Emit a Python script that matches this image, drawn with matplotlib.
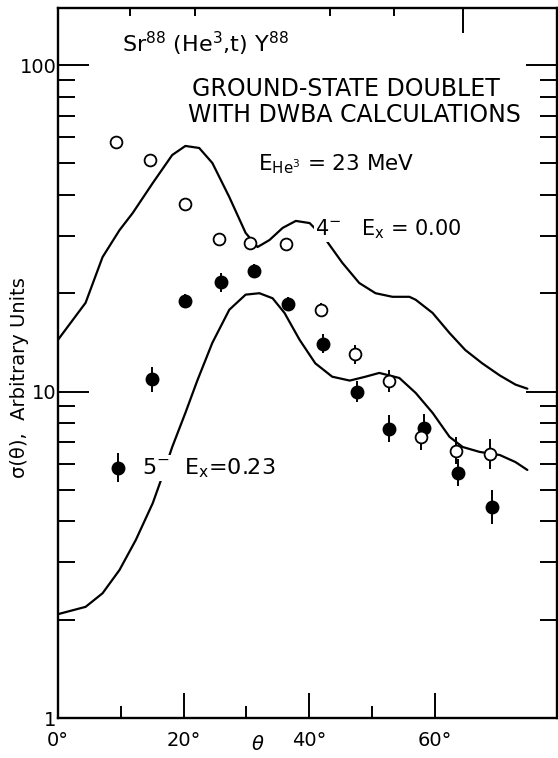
import matplotlib
matplotlib.use('Agg')
import matplotlib.pyplot as plt
import numpy as np

plt.rcParams['font.family'] = ['DejaVu Sans']
plt.rcParams['mathtext.default'] = 'regular'

# ---- data ----
# 4- ground state, Ex = 0.00 (open circles)
open_theta = [9.2, 14.7, 20.2, 25.6, 30.6, 36.4, 41.9, 47.3, 52.8, 57.9, 63.4, 68.8]
open_sigma = [58.1, 51.2, 37.5, 29.3, 28.5, 28.3, 17.8, 13.0, 10.8, 7.26, 6.58, 6.44]
open_err_pct = [0, 0, 0, 0, 0, 0, 5, 7, 8, 10, 10, 11]

# 5- state, Ex = 0.23 (filled circles)
filled_theta = [15.0, 20.3, 25.9, 31.3, 36.6, 42.2, 47.7, 52.8, 58.4, 63.8, 69.1]
filled_sigma = [10.9, 18.9, 21.6, 23.4, 18.5, 14.0, 10.0, 7.68, 7.73, 5.63, 4.43]
filled_err_pct = [9, 5, 7, 5, 5, 7, 8, 10, 10, 10, 13]

# DWBA curves
dwba4_theta = [0.0, 4.4, 7.1, 9.8, 11.9, 15.1, 18.2, 20.3, 22.5, 24.6, 27.3,
               29.9, 31.8, 33.7, 35.8, 37.9, 40.1, 42.6, 45.3, 48.0, 50.6, 53.3,
               56.0, 57.0, 59.7, 62.4, 64.9, 67.6, 70.4, 72.9, 74.8]
dwba4_sigma = [14.4, 18.7, 25.8, 31.2, 35.2, 43.5, 53.0, 56.5, 55.7, 50.1, 39.4,
               30.6, 27.7, 29.1, 31.7, 33.3, 32.8, 29.3, 24.8, 21.5, 20.0, 19.5,
               19.5, 19.1, 17.4, 15.1, 13.4, 12.2, 11.2, 10.5, 10.2]

dwba5_theta = [0.0, 4.4, 7.1, 9.8, 12.4, 15.1, 16.7, 18.2, 20.3, 22.2, 24.6,
               27.3, 29.9, 32.1, 34.2, 36.1, 38.5, 41.0, 43.7, 46.5, 49.0, 51.2,
               54.4, 57.0, 59.7, 62.4, 64.5, 67.2, 70.4, 72.9, 74.8]
dwba5_sigma = [2.08, 2.19, 2.41, 2.84, 3.51, 4.55, 5.55, 6.76, 8.60, 10.8, 14.1,
               17.8, 19.8, 20.0, 19.3, 17.4, 14.4, 12.2, 11.1, 10.8, 11.1, 11.4,
               11.0, 9.9, 8.6, 7.26, 6.76, 6.53, 6.39, 6.08, 5.75]

xticks = [0, 20, 40, 60]
xticklabels = ['0°', '20°', '40°', '60°']
xminor = [10, 30, 50]
top_ticks_major = [64.5]
top_ticks_minor = [11.4, 21.8, 43.3, 53.5]
yticks = [1, 10, 100]
yticklabels = ['1', '10', '100']

# ---- figure ----
W, H = 558, 758
fig = plt.figure(figsize=(W / 100, H / 100), dpi=100)
L, R, T, B = 58, 557, 8, 718
ax = fig.add_axes([L / W, 1 - B / H, (R - L) / W, (B - T) / H])

ax.set_yscale('log')
ax.set_xlim(0, (R - L) / 6.275)
ax.set_ylim(1, 10 ** ((B - T) / 326.5))

lw = 1.6
ax.plot(dwba4_theta, dwba4_sigma, color='black', lw=lw, zorder=2,
        solid_joinstyle='round', solid_capstyle='round')
ax.plot(dwba5_theta, dwba5_sigma, color='black', lw=lw, zorder=2,
        solid_joinstyle='round', solid_capstyle='round')

def log_err(vals, pct):
    v = np.array(vals)
    p = np.array(pct) / 100.0
    return np.vstack([v - v / (1 + p), v * p])

ax.errorbar(filled_theta, filled_sigma, yerr=log_err(filled_sigma, filled_err_pct),
            fmt='o', ms=9, mfc='black', mec='black', ecolor='black',
            elinewidth=1.4, capsize=0, zorder=4)
ax.errorbar(open_theta, open_sigma, yerr=log_err(open_sigma, open_err_pct),
            fmt='o', ms=8.5, mfc='white', mec='black', mew=1.3, ecolor='black',
            elinewidth=1.4, capsize=0, zorder=5)

# legend-style marker for 5-
leg_x, leg_y = 9.6, 5.85
ax.errorbar([leg_x], [leg_y], yerr=log_err([leg_y], [11]), fmt='o', ms=9,
            mfc='black', mec='black', ecolor='black', elinewidth=1.4, capsize=0, zorder=4)

# ticks
ax.set_xticks(xticks)
ax.set_xticklabels(xticklabels, fontsize=14)
ax.set_xticks(xminor, minor=True)
ax.set_yticks(yticks)
ax.set_yticklabels(yticklabels, fontsize=14)
ax.yaxis.set_minor_locator(matplotlib.ticker.LogLocator(base=10, subs=np.arange(2, 10)))
ax.yaxis.set_minor_formatter(matplotlib.ticker.NullFormatter())
ax.tick_params(axis='x', which='major', direction='in', length=18, width=1.4, pad=9,
               top=False)
ax.tick_params(axis='x', which='minor', direction='in', length=9, width=1.4, top=False)
ax.tick_params(axis='y', which='major', direction='in', length=22, width=1.4,
               right=True, pad=1)
ax.tick_params(axis='y', which='minor', direction='in', length=12, width=1.4, right=True)
for s in ax.spines.values():
    s.set_linewidth(1.7)

ax2 = ax.twiny()
ax2.set_xlim(ax.get_xlim())
ax2.set_xticks(top_ticks_major)
ax2.set_xticks(top_ticks_minor, minor=True)
ax2.tick_params(axis='x', which='major', direction='in', length=18, width=1.4, labeltop=False)
ax2.tick_params(axis='x', which='minor', direction='in', length=6, width=1.4)
for s in ax2.spines.values():
    s.set_visible(False)

fig.text(258 / W, 1 - 745 / H, 'θ', fontsize=14, style='italic', ha='center', va='center')
fig.text(20 / W, 1 - 378 / H, 'σ(θ),  Arbitrary Units', rotation=90, fontsize=14,
         ha='center', va='center')

def ftxt(x, y, s, **kw):
    return fig.text(x / W, 1 - y / H, s, **kw)

ftxt(122, 52, 'Sr$^{88}$ (He$^{3}$,t) Y$^{88}$', fontsize=16, va='baseline', ha='left')
ftxt(346, 89, 'GROUND-STATE DOUBLET', fontsize=17, ha='center', va='center')
ftxt(354, 115, 'WITH DWBA CALCULATIONS', fontsize=17, ha='center', va='center')
ftxt(258, 170, 'E$_{He^3}$ = 23 MeV', fontsize=15.5, ha='left', va='baseline')
t4 = ftxt(315, 235, '4$^{-}$   E$_x$ = 0.00', fontsize=15, ha='left', va='baseline', zorder=10)
t4.set_bbox(dict(facecolor='white', edgecolor='none', pad=1))
t5 = ftxt(142, 474, '5$^{-}$  E$_x$=0.23', fontsize=16, ha='left', va='baseline', zorder=10)
t5.set_bbox(dict(facecolor='white', edgecolor='none', pad=1))

fig.savefig('out.png', dpi=100)
